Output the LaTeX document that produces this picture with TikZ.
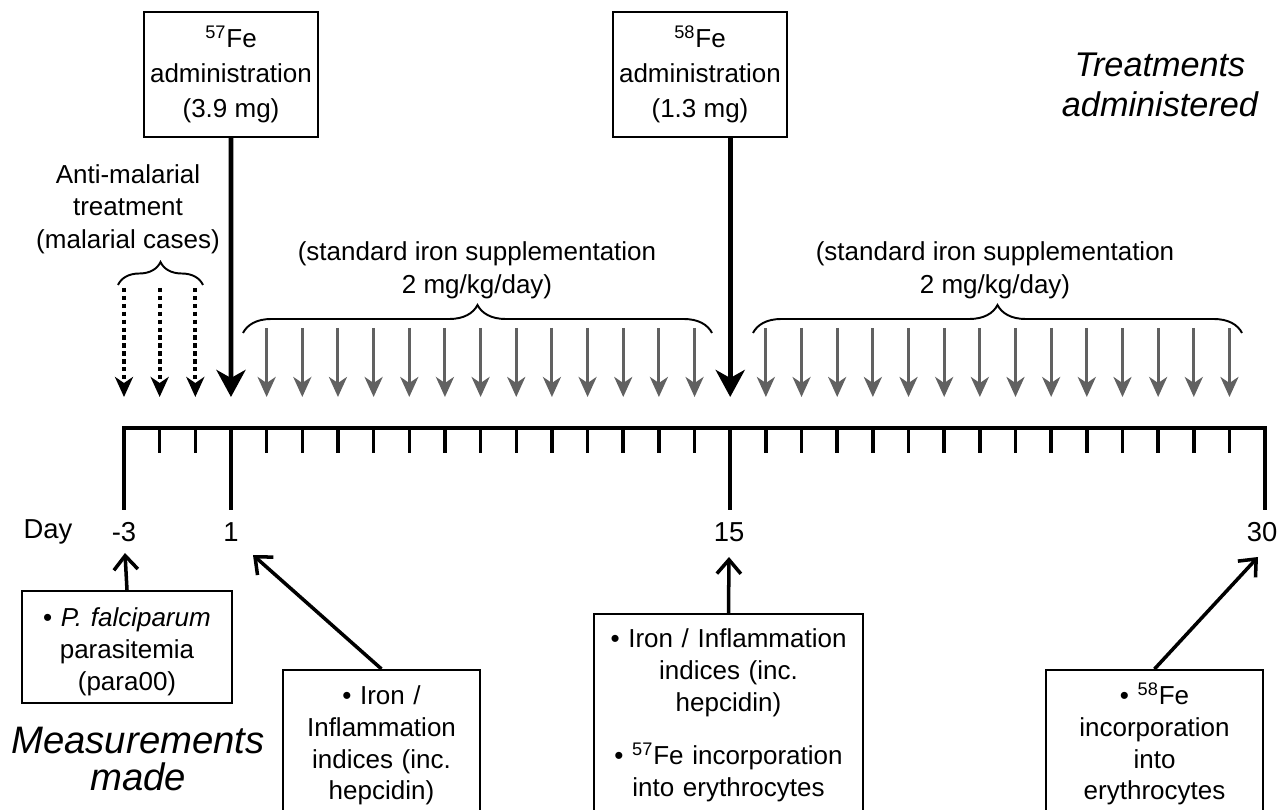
\documentclass[tikz,border=0pt]{standalone}
\usepackage{fontspec}
\setmainfont{Liberation Sans}
\usetikzlibrary{arrows.meta, decorations.pathreplacing}

\begin{document}
\begin{tikzpicture}[x=0.02cm, y=-0.02cm,
    lbl/.style={align=center, font=\fontsize{14.8}{18.6}\selectfont},
    daylbl/.style={font=\fontsize{15.6}{18}\selectfont},
    title/.style={align=center, font=\fontsize{19.5}{22.5}\selectfont\itshape},
    dose/.style={draw, line width=1.1pt, minimum width=3.44cm, minimum height=2.5cm,
        align=center, font=\fontsize{14.8}{19.8}\selectfont},
    meas/.style={draw, line width=1.1pt, anchor=north, align=center, inner sep=0pt,
        font=\fontsize{14.8}{18}\selectfont},
    axis/.style={line width=2.3pt, line join=miter},
    daytick/.style={line width=2pt},
    fearrow/.style={line width=2.8pt, -{Stealth[length=0.54cm, width=0.58cm, inset=0.16cm]}},
    suppl/.style={draw=black!62, line width=1.7pt, -{Stealth[length=0.4cm, width=0.36cm, inset=0.12cm]}},
    malaria/.style={line width=2.3pt, dash pattern=on 2.5pt off 2pt,
        -{Stealth[length=0.4cm, width=0.36cm, inset=0.12cm]}},
    uparrow/.style={line width=2pt, -{Straight Barb[length=0.28cm, width=0.48cm]}},
    grp/.style={line width=1.1pt, decorate, decoration={brace, amplitude=#1}},
]
    \useasboundingbox (0,0) rectangle (1278,810);
    \clip (0,0) rectangle (1278,810);

    % days on the axis (day 0 is skipped)
    \foreach \i in {0,...,32} {
        \coordinate (t\i) at ({124+35.66*\i},428);
        \coordinate (a\i) at ({124+35.66*\i},397);
        \coordinate (g\i) at ({124+35.66*\i},328);
        \coordinate (h\i) at ({124+35.66*\i},288);
    }

    % axis and ticks
    \foreach \i in {1,...,31}
        \draw[daytick] (t\i) -- ++(0,25);
    \draw[axis] (t0) ++(0,82) -- (t0) -- (t32) -- ++(0,82);
    \draw[axis] (t3) -- ++(0,82);
    \draw[axis] (t17) -- ++(0,82);

    \node[daylbl] (day) at (48,532) {Day};
    \node[daylbl] (dm3) at (124,532) {-3};
    \node[daylbl] (d1) at (231,532) {1};
    \node[daylbl] (d15) at (729,532) {15};
    \node[daylbl] (d30) at (1262,532) {30};

    % treatments
    \node[dose] (fe57) at (231,74.5) {\textsuperscript{57}Fe\\administration\\(3.9 mg)};
    \node[dose] (fe58) at (700,74.5) {\textsuperscript{58}Fe\\administration\\(1.3 mg)};
    \node[title] (treat) at (1160,85) {Treatments\\administered};

    \draw[fearrow] (fe57) -- (a3);
    \draw[fearrow] (fe58.south -| a17) -- (a17);

    \node[lbl] (antimal) at (128,209) {Anti-malarial\\treatment\\(malarial cases)};
    \draw[grp=0.46cm] (118,285) -- (203,285);
    \foreach \i in {0,1,2}
        \draw[malaria] (h\i) -- (a\i);

    \node[lbl] (iron1) at (477,270) {(standard iron supplementation\\2 mg/kg/day)};
    \draw[grp=0.56cm] (243,333) -- (712,333);
    \foreach \i in {4,...,16}
        \draw[suppl] (g\i) -- (a\i);

    \node[lbl] (iron2) at (995,270) {(standard iron supplementation\\2 mg/kg/day)};
    \draw[grp=0.56cm] (753,333) -- (1242,333);
    \foreach \i in {18,...,31}
        \draw[suppl] (g\i) -- (a\i);

    % measurements
    \node[meas, text width=4.2cm, text height=0.72cm, text depth=1.52cm] (para) at (127,590)
        {• \textit{P. falciparum}\\parasitemia\\(para00)};
    \node[meas, text width=3.94cm, text height=0.7cm, text depth=4cm] (idx1) at (381.5,669)
        {• Iron /\\Inflammation\\indices (inc.\\hepcidin)};
    \node[meas, text width=5.38cm, text height=0.68cm, text depth=4cm] (idx15) at (728.5,613)
        {• Iron / Inflammation\\indices (inc.\\hepcidin)\\[0.44cm]• \textsuperscript{57}Fe incorporation\\into erythrocytes};
    \node[meas, text width=4.34cm, text height=0.7cm, text depth=4cm] (inc30) at (1154.5,669)
        {• \textsuperscript{58}Fe\\incorporation\\into\\erythrocytes};
    \node[title, font=\fontsize{21.8}{21.5}\selectfont\itshape] (measured) at (138,759) {Measurements\\made};

    \coordinate (m0) at (125,553);
    \coordinate (m1) at (253,555);
    \coordinate (m15) at (729,557);
    \coordinate (m30) at (1258,557);
    \draw[uparrow] (para.north) -- (m0);
    \draw[uparrow] (idx1.north) -- (m1);
    \draw[uparrow] (idx15.north) -- (m15);
    \draw[uparrow] (inc30.north) -- (m30);
\end{tikzpicture}
\end{document}
